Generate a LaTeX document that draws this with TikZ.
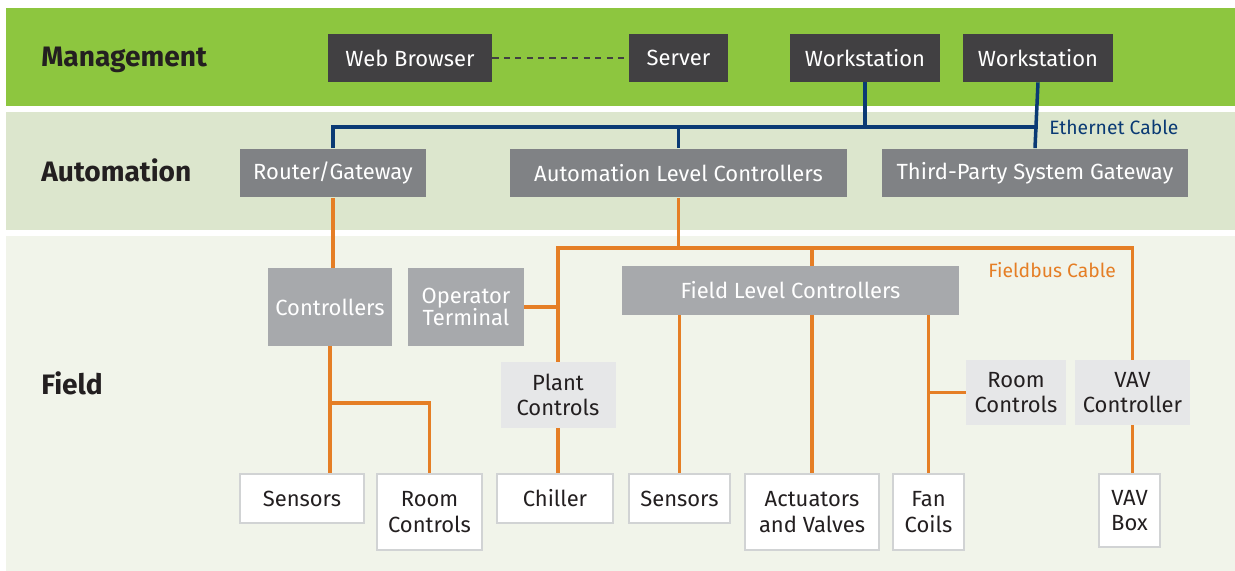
\documentclass[tikz,border=0pt]{standalone}
\usepackage{fontspec}
\setmainfont{Fira Sans}
\usetikzlibrary{calc}

\definecolor{mgmtgreen}{HTML}{8DC63F}
\definecolor{autogreen}{HTML}{DCE6CD}
\definecolor{fieldgreen}{HTML}{F1F4EA}
\definecolor{darkbox}{HTML}{414042}
\definecolor{greybox}{HTML}{808285}
\definecolor{midbox}{HTML}{A7A9AC}
\definecolor{lightbox}{HTML}{E6E7E8}
\definecolor{boxedge}{HTML}{D1D3D4}
\definecolor{ethblue}{HTML}{0A3A74}
\definecolor{busorange}{HTML}{E57E25}
\definecolor{labeltext}{HTML}{231F20}

\tikzstyle{unit}=[rectangle,inner sep=0pt,align=center,font=\fontsize{12.5}{14.5}\selectfont]
\tikzstyle{mgmtbox}=[unit,fill=darkbox,text=white]
\tikzstyle{autobox}=[unit,fill=greybox,text=white]
\tikzstyle{fieldbox}=[unit,fill=midbox,text=white]
\tikzstyle{localbox}=[unit,fill=lightbox,text=labeltext]
\tikzstyle{devicebox}=[unit,fill=white,draw=boxedge,line width=0.8pt,text=labeltext]
\tikzstyle{levelname}=[anchor=base west,inner sep=0pt,text=labeltext,font=\fontsize{16}{18}\selectfont\bfseries]
\tikzstyle{ethernet}=[draw,ethblue,line width=2pt]
\tikzstyle{fieldbus}=[draw,busorange,line width=2pt]
\tikzstyle{cable}=[anchor=west,inner sep=0pt,font=\fontsize{11}{13}\selectfont]

\begin{document}
\begin{tikzpicture}[x=0.02cm,y=-0.02cm]
\useasboundingbox (0,0) rectangle (1235,571);

% level bands
\fill[mgmtgreen] (6,8) rectangle (1235,106);
\fill[autogreen] (6,112) rectangle (1235,230);
\fill[fieldgreen] (6,236) rectangle (1235,571);

\foreach \pos/\name/\txt in {{(41,67)/mgmt/Management},{(41,182)/auto/Automation},{(41,394)/field/Field}}
    \node[levelname] (\name) at \pos {\txt};

% management level
\foreach \pos/\name/\bw/\txt in {{(410,58)/web/164/Web Browser},{(678.5,58)/server/99/Server},{(865,58)/wsa/150/Workstation},{(1038,58)/wsb/150/Workstation}}
    \node[mgmtbox,minimum width=\bw*0.02cm,minimum height=0.96cm] (\name) at \pos {\txt};

\draw[darkbox,line width=1.1pt,dash pattern=on 3.5pt off 3pt] (web.east) -- (server.west);

% automation level
\foreach \pos/\name/\bw/\txt in {{(333,173)/router/186/{Router/Gateway}},{(678.5,173)/alc/337/Automation Level Controllers},{(1035,173)/tpg/306/Third-Party System Gateway}}
    \node[autobox,minimum width=\bw*0.02cm,minimum height=0.98cm] (\name) at \pos {\txt};

% field level
\foreach \pos/\name/\bw/\bh/\txt in {{(330,307)/ctrl/124/78/Controllers},{(466,307)/opterm/116/78/{Operator\\[-2pt]Terminal}},{(790.5,290.5)/flc/337/49/Field Level Controllers}}
    \node[fieldbox,minimum width=\bw*0.02cm,minimum height=\bh*0.02cm] (\name) at \pos {\txt};

\foreach \pos/\name/\bw/\bh/\txt in {{(558,395)/plant/115/66/{Plant\\Controls}},{(1016,392.5)/rcb/100/65/{Room\\Controls}},{(1132.5,392.5)/vavc/115/65/{VAV\\Controller}}}
    \node[localbox,minimum width=\bw*0.02cm,minimum height=\bh*0.02cm] (\name) at \pos {\txt};

\foreach \pos/\name/\bw/\bh/\txt in {{(302,498.5)/sensa/124/49/Sensors},{(429.5,512)/rca/105/76/{Room\\Controls}},{(555,498.5)/chiller/116/49/Chiller},{(679.5,498.5)/sensb/101/49/Sensors},{(812,512)/act/134/76/{Actuators\\and Valves}},{(928.5,512)/fan/71/76/{Fan\\Coils}},{(1129.5,510.5)/vavbox/61/73/{VAV\\Box}}}
    \node[devicebox,minimum width=\bw*0.02cm,minimum height=\bh*0.02cm] (\name) at \pos {\txt};

% ethernet cable
\coordinate (ebus) at (0,127);
\path[ethernet] (router.north) |- (wsb.south |- ebus);
\path[ethernet] (wsb.south) -- (tpg.north);
\path[ethernet] (wsa.south) -- (wsa.south |- ebus);
\path[ethernet] (alc.north) -- (alc.north |- ebus);
\node[cable,text=ethblue] (ethlabel) at (1049,127) {Ethernet Cable};

% fieldbus cable
\coordinate (fbus) at (0,248);
\coordinate (cbranch) at (0,403);
\path[fieldbus] (alc.south) -- (alc.south |- fbus);
\path[fieldbus] (plant.north) |- (vavc.north |- fbus) -- (vavc.north);
\path[fieldbus] (act.north |- fbus) -- (act.north |- flc.north);
\path[fieldbus] (opterm.east) -- (plant.north |- opterm.east);
\path[fieldbus] (plant.south) -- (plant.south |- chiller.north);
\path[fieldbus] (router.south) -- (router.south |- ctrl.north);
\path[fieldbus] (ctrl.south) -- (ctrl.south |- sensa.north);
\path[fieldbus] (ctrl.south |- cbranch) -| (rca.north);
\path[fieldbus] (sensb.north |- flc.south) -- (sensb.north);
\path[fieldbus] (act.north |- flc.south) -- (act.north);
\path[fieldbus] (fan.north |- flc.south) -- (fan.north);
\path[fieldbus] (fan.north |- rcb.west) -- (rcb.west);
\path[fieldbus] (vavc.south) -- (vavc.south |- vavbox.north);
\node[cable,text=busorange] (buslabel) at (988,270) {Fieldbus Cable};

\end{tikzpicture}
\end{document}
